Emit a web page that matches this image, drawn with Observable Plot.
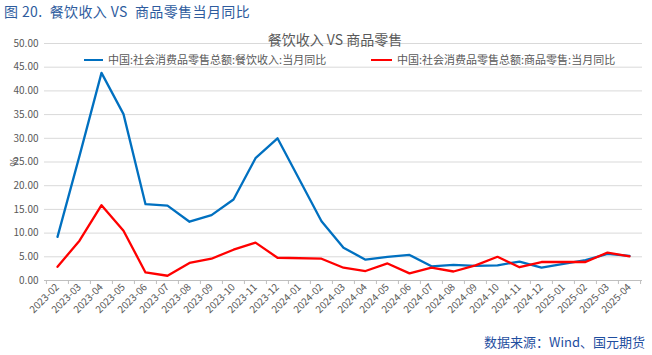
<!DOCTYPE html>
<html>
<head>
<meta charset="utf-8">
<script src="https://cdn.jsdelivr.net/npm/d3@7"></script>
<script src="https://cdn.jsdelivr.net/npm/@observablehq/plot@0.6"></script>
<style>
  html, body { margin: 0; padding: 0; background: #fff; }
  body { font-family: "Noto Sans CJK SC", "Noto Sans", sans-serif; }
  #wrap { position: relative; width: 652px; height: 355px; overflow: hidden; }
  #chart { position: absolute; left: 0; top: 0; }
  .abs { position: absolute; white-space: nowrap; line-height: 1; }
  #title { left: 4px; top: 4px; font-size: 14px; color: #2E5C9E; letter-spacing: 0.4px; }
  #ctitle { left: 0; width: 670px; text-align: center; top: 32px; font-size: 14px; color: #595959; }
  .leg { top: 54px; font-size: 11px; color: #595959; }
  .sw { position: absolute; height: 2px; top: 59px; }
  #footer { right: 7px; top: 335px; font-size: 13px; color: #1F4E9F; }
</style>
</head>
<body>
<div id="wrap">
  <div id="chart"></div>
  <div id="title" class="abs">图 20.&nbsp; 餐饮收入&nbsp;VS&nbsp; 商品零售当月同比</div>
  <div id="ctitle" class="abs">餐饮收入 VS 商品零售</div>
  <div class="sw" style="left:84px;width:19px;background:#0070C0"></div>
  <div class="abs leg" style="left:108px">中国:社会消费品零售总额:餐饮收入:当月同比</div>
  <div class="sw" style="left:371px;width:21px;background:#FF0000"></div>
  <div class="abs leg" style="left:397px">中国:社会消费品零售总额:商品零售:当月同比</div>
  <div id="footer" class="abs">数据来源：Wind、国元期货</div>
</div>
<script>
const months = ["2023-02","2023-03","2023-04","2023-05","2023-06","2023-07","2023-08","2023-09","2023-10","2023-11","2023-12",
  "2024-01","2024-02","2024-03","2024-04","2024-05","2024-06","2024-07","2024-08","2024-09","2024-10","2024-11","2024-12",
  "2025-01","2025-02","2025-03","2025-04"];
const catering = [9.2, 26.3, 43.8, 35.1, 16.1, 15.8, 12.4, 13.8, 17.1, 25.8, 30.0,
  null, 12.5, 6.9, 4.4, 5.0, 5.4, 3.0, 3.3, 3.1, 3.2, 4.0, 2.7,
  null, 4.3, 5.6, 5.2];
const goods = [2.9, 8.4, 15.9, 10.5, 1.7, 1.0, 3.7, 4.6, 6.5, 8.0, 4.8,
  null, 4.6, 2.7, 2.0, 3.6, 1.5, 2.7, 1.9, 3.2, 5.0, 2.8, 3.9,
  null, 3.9, 5.9, 5.1];
const yTicks = [0, 5, 10, 15, 20, 25, 30, 35, 40, 45, 50];

const W = 652, H = 355, mL = 44, mR = 10, mT = 43, mB = 75;
const bw = (W - mL - mR) / months.length;

const cateringRows = months.map((m, i) => ({month: m, value: catering[i]})).filter(d => d.value != null);
const goodsRows = months.map((m, i) => ({month: m, value: goods[i]})).filter(d => d.value != null);

const chart = Plot.plot({
  width: W, height: H,
  marginLeft: mL, marginRight: mR, marginTop: mT, marginBottom: mB,
  style: {fontFamily: "'Noto Sans CJK SC', 'Noto Sans', sans-serif", fontSize: "10px", background: "transparent", overflow: "visible"},
  x: {type: "band", domain: months, paddingInner: 0, paddingOuter: 0},
  y: {domain: [0, 50]},
  marks: [
    Plot.ruleY(yTicks.filter(d => d > 0), {stroke: "#d9d9d9", strokeWidth: 1}),
    Plot.ruleY([0], {stroke: "#bfbfbf", strokeWidth: 1}),
    Plot.ruleX(months, {x: d => d, y1: 0, y2: -0.85, dx: -bw / 2, stroke: "#bfbfbf"}),
    Plot.ruleX(months.slice(-1), {x: d => d, y1: 0, y2: -0.85, dx: bw / 2, stroke: "#bfbfbf"}),
    Plot.axisY({ticks: yTicks, tickFormat: d3.format(".2f"), tickSize: 0, tickPadding: 6, fontSize: 10, color: "#595959",
      label: "%", labelAnchor: "center", labelArrow: "none", labelOffset: 34}),
    Plot.axisX({tickRotate: -45, tickSize: 0, tickPadding: 5, fontSize: 10, color: "#595959", label: null}),
    Plot.line(cateringRows, {x: "month", y: "value", stroke: "#0070C0", strokeWidth: 2.3}),
    Plot.line(goodsRows, {x: "month", y: "value", stroke: "#FF0000", strokeWidth: 2.3})
  ]
});
document.getElementById("chart").appendChild(chart);
</script>
</body>
</html>
